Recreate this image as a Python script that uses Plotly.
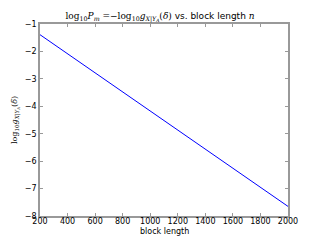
import plotly.graph_objects as go

block_length = [200, 2000]
log_pm = [-1.39, -7.65]

x_ticks = [200, 400, 600, 800, 1000, 1200, 1400, 1600, 1800, 2000]
y_ticks = [-8, -7, -6, -5, -4, -3, -2, -1]

SERIF = "font-family:'DejaVu Serif'"

fig = go.Figure()
fig.add_trace(go.Scatter(x=block_length, y=log_pm, mode="lines",
                         line=dict(color="#0000ff", width=1)))

axis_common = dict(showgrid=False, zeroline=False, showline=True, linecolor="#999999",
                   linewidth=1.5, mirror="ticks", ticks="inside", ticklen=3,
                   tickcolor="#999999", tickwidth=1,
                   tickfont=dict(family="DejaVu Sans", size=8, color="black"))

title_text = (f"<span style=\"{SERIF}\">log<sub>10</sub><i>P<sub>m</sub></i> =−log<sub>10</sub>"
              f"<i>g<sub>X|Y<sub>A</sub></sub></i>(<i>δ</i>)</span> vs. block length "
              f"<span style=\"{SERIF}\"><i>n</i></span>")
ylab_text = (f"<span style=\"{SERIF}\">log<sub>10</sub><i>g<sub>X|Y<sub>A</sub></sub></i>(<i>δ</i>)</span>")

fig.update_layout(
    width=320, height=240,
    margin=dict(l=40, r=32, t=24, b=24),
    paper_bgcolor="white", plot_bgcolor="white",
    showlegend=False,
    title=dict(text=title_text,
               x=0.5, xanchor="center", y=0.935, yanchor="middle",
               font=dict(family="DejaVu Sans", size=9, color="black")),
    xaxis=dict(range=[200, 2000], tickvals=x_ticks, ticktext=[str(v) for v in x_ticks],
               ticklabelstandoff=-3, **axis_common),
    yaxis=dict(range=[-8, -1], tickvals=y_ticks, ticktext=["−" + str(-v) for v in y_ticks],
               title=dict(text=ylab_text, font=dict(family="DejaVu Sans", size=8, color="black"), standoff=6),
               **axis_common),
    annotations=[dict(text="block length", xref="paper", yref="paper", x=0.5, y=0,
                      xanchor="center", yanchor="middle", yshift=-15, showarrow=False,
                      font=dict(family="DejaVu Sans", size=8, color="black"))],
)

fig.write_html("out.html", config={"displayModeBar": False},
               post_script="document.body.style.margin='0';")
